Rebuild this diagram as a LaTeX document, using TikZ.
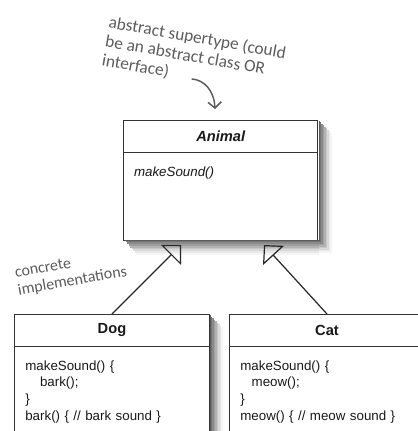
\documentclass[tikz,border=0pt]{standalone}
\usepackage{fontspec}
\setmainfont{Liberation Sans}
\newfontfamily\handfont{Carlito}
\usetikzlibrary{shapes.multipart,arrows.meta}

\newcommand{\classhead}[1]{\parbox[c][23.25pt][c]{\linewidth}{\centering\fontsize{11}{13}\selectfont\bfseries #1}}
\newcommand{\classbody}[2]{\parbox[t][#1][t]{\linewidth}{\fontsize{10}{12.5}\selectfont\rule{0pt}{17.25pt}#2}}

\tikzset{
  classbox/.style={draw=black!80, line width=0.75pt, fill=white, anchor=north,
    rectangle split, rectangle split parts=2, text width=130pt,
    inner xsep=7.9pt, inner ysep=0pt, text=black!90},
  isa/.style={draw=black!85, line width=0.9pt, -{Triangle[open,length=10.6pt,width=21.2pt]}},
  note/.style={align=left, inner sep=0pt, text=black!64, font=\handfont\fontsize{13}{14.4}\selectfont},
  notearrow/.style={draw=black!64, line width=1.1pt, line cap=round, -{Straight Barb[length=4.5pt,width=10pt]}}
}

\begin{document}
\begin{tikzpicture}[x=0.75pt,y=-0.75pt]
    \useasboundingbox (0,0) rectangle (417,431);
    % abstract supertype
    \node[classbox] (animal) at (220.7,120)
        {\classhead{\itshape Animal}
         \nodepart{two}\classbody{65.5pt}{\itshape makeSound()}};
    % concrete classes
    \node[classbox] (dog) at (112,314)
        {\classhead{Dog}
         \nodepart{two}\classbody{100pt}{makeSound() \{\\\hspace*{11pt}bark();\\\}\\bark() \{ // bark sound \}}};
    \node[classbox] (cat) at (327,314)
        {\classhead{Cat}
         \nodepart{two}\classbody{100pt}{makeSound() \{\\\hspace*{8.5pt}meow();\\\}\\meow() \{ // meow sound \}}};
    % soft shadows along the right and bottom sides
    \foreach \d/\g in {13/4,11.5/9,10/15,8.5/22,7/30,5.5/38,4/46,2.5/55,1.2/64}{
        \fill[black!\g] (318.6,120+\d) rectangle (318.6+\d,239.6+\d);
        \fill[black!\g] (123.3+\d,239.6) rectangle (318.6,239.6+1.15*\d);
        \fill[black!\g] (209.6,314+\d) rectangle (209.6+\d,440);
    }
    \coordinate (dogtip) at (181,245);
    \coordinate (cattip) at (264,245);
    \draw[isa] (dog.north) -- (dogtip);
    \draw[isa] (cat.north) -- (cattip);
    % hand written notes
    \node[note,rotate=-10] (supernote) at (194,57) {abstract supertype (could\\be an abstract class OR\\interface)};
    \node[note,rotate=10,font=\handfont\fontsize{12}{13.4}\selectfont] (implnote) at (71,273) {concrete\\implementations};
    \coordinate (notestart) at (192,79);
    \coordinate (noteend)   at (215,109);
    \draw[notearrow] (notestart) .. controls (204,80) and (214,90) .. (noteend);
\end{tikzpicture}
\end{document}
